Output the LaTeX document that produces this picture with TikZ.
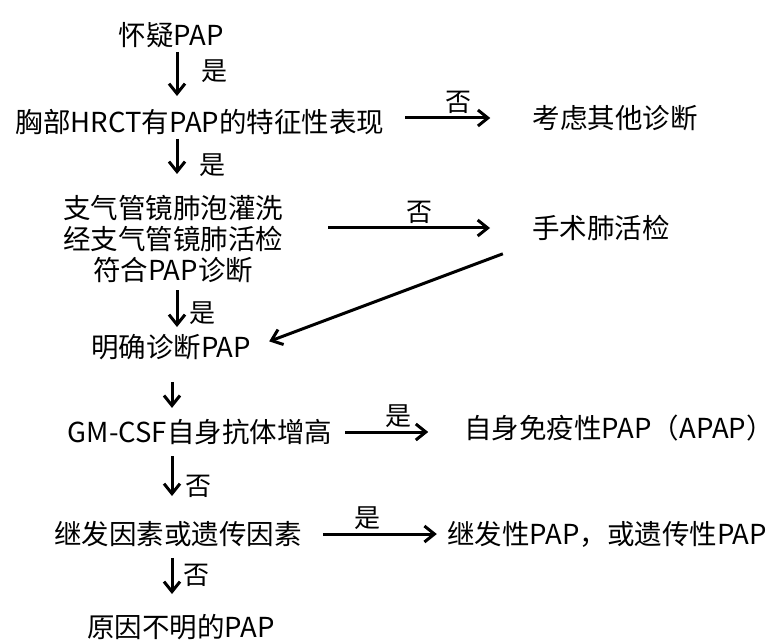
\documentclass[tikz,border=0pt]{standalone}
\usepackage{fontspec}
\setmainfont{Noto Sans CJK SC}
\usetikzlibrary{arrows.meta}

\begin{document}
\begin{tikzpicture}[x=1pt, y=-1pt,
  txt/.style={font=\fontsize{27.5}{31}\selectfont, inner sep=3pt, align=center},
  lbl/.style={font=\fontsize{26}{30}\selectfont, inner sep=2pt},
  arrow/.style={-{Straight Barb[length=10pt, width=16pt]}, line width=3pt},
]
\useasboundingbox (0,0) rectangle (773,644);

% axis of the vertical arrows
\coordinate (ax) at (177,0);
\coordinate (bx) at (172,0);

\node[txt] (q) at (171,35) {怀疑PAP};
\node[txt] (hrct) at (200,122) {胸部HRCT有PAP的特征性表现};
\node[txt] (bal) at (173,239) {支气管镜肺泡灌洗\\经支气管镜肺活检\\符合PAP诊断};
\node[txt] (dx) at (171,347) {明确诊断PAP};
\node[txt] (gm) at (200,432) {GM-CSF自身抗体增高};
\node[txt] (sec) at (178,534) {继发因素或遗传因素};
\node[txt] (idio) at (181,627) {原因不明的PAP};

\node[txt] (other) at (615,118) {考虑其他诊断};
\node[txt] (slb) at (601,228) {手术肺活检};
\node[txt] (apap) at (619,428) {自身免疫性PAP（APAP）};
\node[txt] (spap) at (607,534) {继发性PAP，或遗传性PAP};

\draw[arrow, shorten <=1pt, shorten >=10pt] (q.south -| ax) -- (hrct.north -| ax) node[lbl, pos=0.36, right=21pt] {是};
\draw[arrow, shorten <=1pt, shorten >=18pt] (hrct.south -| ax) -- (bal.north -| ax) node[lbl, pos=0.5, right=19pt] {是};
\draw[arrow, shorten <=4pt, shorten >=4pt] (bal.south -| ax) -- (dx.north -| ax) node[lbl, pos=0.6, right=9pt] {是};
\draw[arrow, shorten <=19pt, shorten >=8pt] (dx.south -| bx) -- (gm.north -| bx);
\draw[arrow, shorten <=8pt, shorten >=22pt] (gm.south -| bx) -- (sec.north -| bx) node[lbl, pos=0.55, right=10pt] {否};
\draw[arrow, shorten <=8pt, shorten >=17pt] (sec.south -| bx) -- (idio.north -| bx) node[lbl, pos=0.42, right=8pt] {否};

\draw[arrow, shorten <=18pt, shorten >=39pt] (hrct.east |- other.west) -- (other.west) node[lbl, pos=0.5, above=1pt] {否};
\draw[arrow, shorten <=42pt, shorten >=39pt] (bal.east |- slb.west) -- (slb.west) node[lbl, pos=0.55, above=1pt] {否};
\draw[arrow, shorten <=28pt, shorten >=16pt] (slb.south west) -- (dx.east);
\draw[arrow, shorten <=10pt, shorten >=33pt] (gm.east) -- (gm.east -| apap.west) node[lbl, pos=0.5, above=1pt] {是};
\draw[arrow, shorten <=18pt, shorten >=7pt] (sec.east) -- (sec.east -| spap.west) node[lbl, pos=0.45, above=1pt] {是};

\end{tikzpicture}
\end{document}
